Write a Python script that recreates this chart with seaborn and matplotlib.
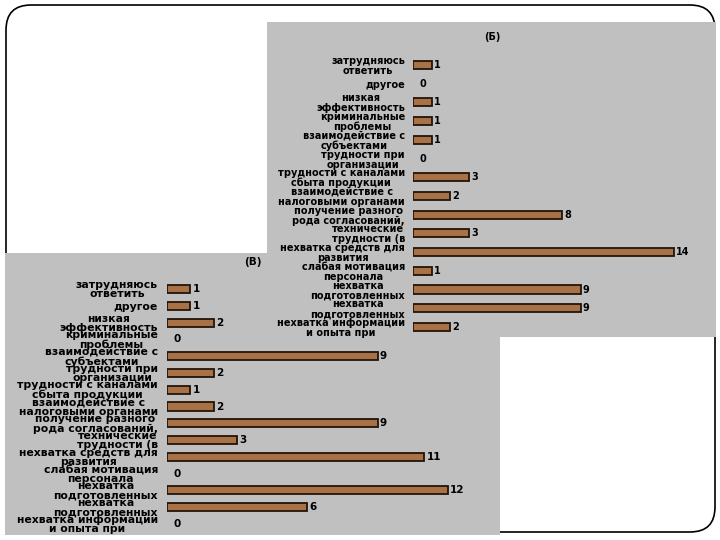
"""
Two overlapping horizontal bar panels (Б) and (В) on a slide frame.
"""
import pandas as pd
import seaborn as sns
import matplotlib.pyplot as plt
from matplotlib.patches import Rectangle, FancyBboxPatch

# category labels (cut off the same way as in the source slide)
categories = [
    "затрудняюсь\nответить",
    "другое",
    "низкая\nэффективность",
    "криминальные\nпроблемы",
    "взаимодействие с\nсубъектами",
    "трудности при\nорганизации",
    "трудности с каналами\nсбыта продукции",
    "взаимодействие с\nналоговыми органами",
    "получение разного\nрода согласований,",
    "технические\nтрудности (в",
    "нехватка средств для\nразвития",
    "слабая мотивация\nперсонала",
    "нехватка\nподготовленных",
    "нехватка\nподготовленных",
    "нехватка информации\nи опыта при",
]
values_b = [1, 0, 1, 1, 1, 0, 3, 2, 8, 3, 14, 1, 9, 9, 2]
values_v = [1, 1, 2, 0, 9, 2, 1, 2, 9, 3, 11, 0, 12, 6, 0]

W, H = 720, 540
PANEL_GRAY = "#c0c0c0"
BAR_BROWN = "#a87246"
BAR_EDGE = "#22140a"


def px_box(x0, y0, x1, y1):
    """Pixel box (origin top-left) -> figure fraction [left, bottom, w, h]."""
    return [x0 / W, 1 - y1 / H, (x1 - x0) / W, (y1 - y0) / H]


def draw_panel(ax, values, xmax, bar_w, label_size, line_sp, pad,
               value_size, zero_off):
    df = pd.DataFrame({"pos": range(len(values)), "value": values})
    sns.barplot(data=df, x="value", y="pos", orient="h", ax=ax,
                color=BAR_BROWN, saturation=1, width=bar_w,
                edgecolor=BAR_EDGE, linewidth=1.3)
    # no outline for empty bars
    for p in ax.patches:
        if p.get_width() == 0:
            p.set_linewidth(0)
    ax.set_xlim(0, xmax)
    ax.set_ylim(len(values) - 0.5, -0.5)
    ax.set_yticks(range(len(values)))
    ax.set_yticklabels(categories, fontsize=label_size, fontweight="bold",
                       linespacing=line_sp, multialignment="center",
                       color="black")
    ax.tick_params(axis="y", length=0, pad=pad)
    ax.set_xticks([])
    ax.set_xlabel("")
    ax.set_ylabel("")
    ax.patch.set_alpha(0)
    sns.despine(ax=ax, left=True, bottom=True)

    # value labels at the end of each bar
    for i, v in enumerate(values):
        ax.annotate(str(v), xy=(v, i), xytext=(1.5 if v else zero_off, 0),
                    textcoords="offset points", ha="left", va="center",
                    fontsize=value_size, fontweight="bold", color="black")


def main():
    sns.set_style("white")
    plt.rcParams["font.family"] = ["DejaVu Sans"]
    plt.rcParams["text.color"] = "black"

    fig = plt.figure(figsize=(7.2, 5.4), dpi=100)

    # slide frame
    frame = FancyBboxPatch((0.06, 0.08), 7.09, 5.27,
                           boxstyle="round,pad=0,rounding_size=0.25",
                           fill=False, edgecolor="black", linewidth=1.2,
                           transform=fig.dpi_scale_trans, zorder=0.3)
    fig.patches.append(frame)

    # panel (В) background, below panel (Б)
    x0, y0, w, h = px_box(5, 253, 500, 535)
    fig.patches.append(Rectangle((x0, y0), w, h, transform=fig.transFigure,
                                 facecolor=PANEL_GRAY, edgecolor="none",
                                 zorder=0.5))
    ax_v = fig.add_axes(px_box(167, 280.6, 494.6, 532.4))
    ax_v.set_zorder(1)
    draw_panel(ax_v, values_v, xmax=14, bar_w=0.48, label_size=7.8,
               line_sp=0.9, pad=6.5, value_size=7.5, zero_off=5)
    fig.text(253 / W, 1 - 262 / H, "(В)", ha="center", va="center",
             fontsize=7.5, fontweight="bold", zorder=1.2)

    # panel (Б) background, drawn on top
    x0, y0, w, h = px_box(267, 22, 716, 337)
    fig.patches.append(Rectangle((x0, y0), w, h, transform=fig.transFigure,
                                 facecolor=PANEL_GRAY, edgecolor="none",
                                 zorder=1.5))
    ax_b = fig.add_axes(px_box(413, 55.6, 711, 336.3))
    ax_b.set_zorder(2)
    draw_panel(ax_b, values_b, xmax=16, bar_w=0.43, label_size=7,
               line_sp=1.0, pad=5.8, value_size=7, zero_off=5)
    fig.text(492 / W, 1 - 37 / H, "(Б)", ha="center", va="center",
             fontsize=7, fontweight="bold", zorder=2.2)

    fig.savefig("out.png", dpi=100)


if __name__ == "__main__":
    main()
